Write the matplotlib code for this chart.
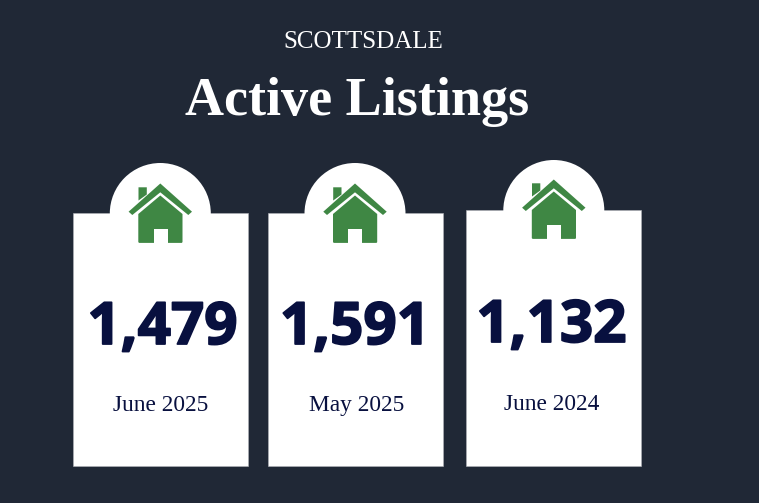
import matplotlib
matplotlib.use("Agg")
import matplotlib.pyplot as plt
import matplotlib.patheffects as pe
from matplotlib.patches import Circle, Polygon, Rectangle

BG = "#202836"
NAVY = "#08103f"
GREEN = "#3f8744"

# data
periods = ["June 2025", "May 2025", "June 2024"]
listings = [1479, 1591, 1132]

# layout, in pixels of the picture
card_left = [73, 268, 466]
card_top = [213, 213, 210]
card_bottom = 465.6
card_width = 174.6
circle_x = [160.3, 355, 553.8]
house_top = [183.5, 183.5, 179.5]
number_x = [162.5, 355, 551.5]
number_y = [344, 344, 342]
number_size = [42, 42, 42]
label_x = [160.5, 357, 551.5]
label_y = [411, 411, 410]


def draw_house(ax, cx, top):
    # roof and chimney first, then the body with the door cut out in white
    chimney = [(-21.8, 3.8), (-13.5, 3.8), (-13.5, 11), (-21.8, 17)]
    roof = [(0, 0), (31.7, 28.2), (28, 31.5), (0, 8.8), (-28, 31.5), (-31.7, 28.2)]
    body = [(0, 12), (22.2, 30.5), (22.2, 58.6), (21.5, 59.4), (-21.2, 59.4),
            (-22, 58.6), (-22, 30.5)]
    door = [(-6.8, 45.8), (7.2, 45.8), (7.2, 59.6), (-6.8, 59.6)]
    for pts, col in [(chimney, GREEN), (roof, GREEN), (body, GREEN), (door, "white")]:
        ax.add_patch(Polygon([(cx + x, top + y) for x, y in pts], closed=True,
                             facecolor=col, edgecolor="none", zorder=3))


fig = plt.figure(figsize=(7.59, 5.03), dpi=100, facecolor=BG)
ax = fig.add_axes([0, 0, 1, 1])
ax.set_xlim(0, 759)
ax.set_ylim(503, 0)
ax.axis("off")

ax.text(363, 48, "SCOTTSDALE", color="white", ha="center", va="baseline",
        fontsize=18, family="Liberation Serif")
ax.text(357.5, 114.5, "Active Listings", color="white", ha="center", va="baseline",
        fontsize=39, fontweight="bold", family="Liberation Serif")

for i in range(len(listings)):
    left = card_left[i]
    top = card_top[i]
    ax.add_patch(Rectangle((left, top), card_width, card_bottom - top,
                           facecolor="white", edgecolor="#b4b6bc", lw=0.4, zorder=2))
    ax.add_patch(Circle((circle_x[i], top + 0.5), 50.5, facecolor="white",
                        edgecolor="none", zorder=2))
    draw_house(ax, circle_x[i], house_top[i])

    # the original numbers are heavier than Open Sans Bold, so thicken them a bit
    txt = ax.text(number_x[i], number_y[i], f"{listings[i]:,}", color=NAVY, ha="center",
                  va="baseline", fontsize=number_size[i], fontweight="bold",
                  family="Open Sans", zorder=4)
    txt.set_path_effects([pe.withStroke(linewidth=1.3, foreground=NAVY)])
    ax.text(label_x[i], label_y[i], periods[i], color=NAVY, ha="center", va="baseline",
            fontsize=16.8, family="Liberation Serif", zorder=4)

fig.savefig("out.png", dpi=100, facecolor=BG)
